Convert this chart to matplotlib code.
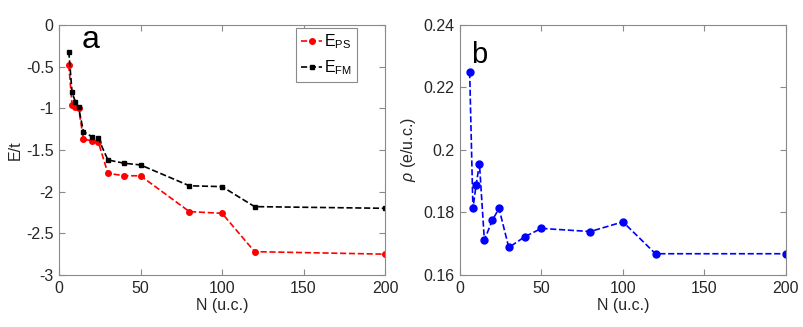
import numpy as np
import matplotlib
matplotlib.use('Agg')
import matplotlib.pyplot as plt

# Datos.
N = [6, 8, 10, 12, 15, 20, 24, 30, 40, 50, 80, 100, 120, 200]
E_ps = [-0.48, -0.96, -0.98, -1.00, -1.37, -1.39, -1.40, -1.78, -1.81, -1.81,
        -2.24, -2.26, -2.72, -2.75]
E_fm = [-0.32, -0.81, -0.92, -0.99, -1.28, -1.34, -1.36, -1.62, -1.66, -1.68,
        -1.93, -1.94, -2.18, -2.20]
rho = [0.2249, 0.1813, 0.1889, 0.1956, 0.1712, 0.1776, 0.1813, 0.1688,
       0.1723, 0.1749, 0.1739, 0.1770, 0.1668, 0.1668]

xticks = [0, 50, 100, 150, 200]
yticks_a = [0, -0.5, -1, -1.5, -2, -2.5, -3]
yticks_b = [0.16, 0.18, 0.2, 0.22, 0.24]

plt.rcParams['font.family'] = ['Liberation Sans', 'DejaVu Sans']
plt.rcParams['mathtext.fontset'] = 'custom'
plt.rcParams['mathtext.rm'] = 'Liberation Sans'
plt.rcParams['mathtext.it'] = 'Liberation Sans:italic'
plt.rcParams['font.size'] = 11.5

fig = plt.figure(figsize=(8.04, 3.27), dpi=100)
ax1 = fig.add_axes([0.0734, 0.159, 0.4055, 0.765])
ax2 = fig.add_axes([0.572, 0.159, 0.4055, 0.765])

txt = '#262626'
spine = '#8a8a8a'


def estilo(ax):
    for s in ax.spines.values():
        s.set_color(spine)
        s.set_linewidth(0.8)
    ax.tick_params(direction='in', top=True, right=True, length=4,
                   color=spine, labelcolor=txt, labelsize=11.5, pad=4)


# Panel a.
ax1.plot(N, E_ps, '--', color='red', marker='o', markersize=4,
         linewidth=1.2, label=r'E$_{\mathrm{PS}}$')
ax1.plot(N, E_fm, '--', color='black', marker='s', markersize=3.4,
         linewidth=1.2, label=r'E$_{\mathrm{FM}}$')
ax1.set_xlim(0, 200)
ax1.set_ylim(-3, 0)
ax1.set_xticks(xticks)
ax1.set_yticks(yticks_a)
ax1.set_yticklabels(['0', '-0.5', '-1', '-1.5', '-2', '-2.5', '-3'])
ax1.set_xlabel('N (u.c.)', color=txt, labelpad=2)
ax1.set_ylabel('E/t', color=txt, labelpad=2)
ax1.text(14, -0.18, 'a', fontsize=23, va='center', ha='left')
estilo(ax1)
leg = ax1.legend(loc='upper right', bbox_to_anchor=(0.914, 0.988),
                 handlelength=1.3, handletextpad=0.15, borderpad=0.3,
                 labelspacing=0.45, fancybox=False, framealpha=1,
                 borderaxespad=0, fontsize=11.5)
leg.get_frame().set_edgecolor(spine)
leg.get_frame().set_linewidth(0.8)

# Panel b.
ax2.plot(N, rho, '--', color='blue', marker='o', markersize=5,
         linewidth=1.2)
ax2.set_xlim(0, 200)
ax2.set_ylim(0.16, 0.24)
ax2.set_xticks(xticks)
ax2.set_yticks(yticks_b)
ax2.set_yticklabels(['0.16', '0.18', '0.2', '0.22', '0.24'])
ax2.set_xlabel('N (u.c.)', color=txt, labelpad=2)
ax2.set_ylabel(r'$\rho$ (e/u.c.)', color=txt, labelpad=4)
ax2.text(7, 0.2305, 'b', fontsize=21, va='center', ha='left')
estilo(ax2)

fig.savefig('out.png', dpi=100)
